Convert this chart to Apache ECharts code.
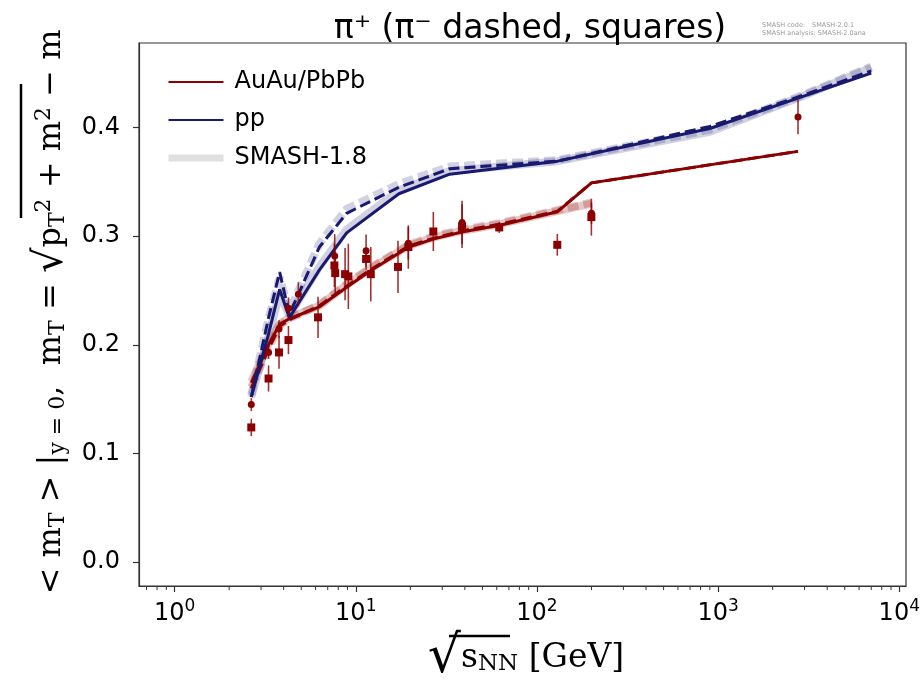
<!DOCTYPE html>
<html>
<head>
<meta charset="utf-8">
<script src="https://cdn.jsdelivr.net/npm/echarts@6/dist/echarts.min.js"></script>
<style>html,body{margin:0;background:#fff}#chart{width:924px;height:680px}</style>
</head>
<body>
<div id="chart"></div>
<script>
// model lines, sqrt(s_NN) grid
const sqrtsAA = [2.65, 3.3, 3.8, 4.3, 6.3, 8.9, 12.3, 19.6, 27, 39, 62.4, 130, 200, 2760];
const aaPiPlus = [0.165, 0.200, 0.219, 0.224, 0.235, 0.253, 0.269, 0.290, 0.2975, 0.304, 0.310, 0.3225, 0.349, 0.378];
const aaPiMinus = [0.160, 0.196, 0.217, 0.223, 0.236, 0.254, 0.270, 0.291, 0.298, 0.305, 0.311, 0.323, 0.349, 0.378];
// SMASH-1.8 reference (stops at 200 GeV)
const sqrtsAAOld = [2.65, 3.3, 3.8, 4.3, 6.3, 8.9, 12.3, 19.6, 27, 39, 62.4, 130, 200];
const aaOldPiPlus = [0.166, 0.201, 0.219, 0.225, 0.236, 0.255, 0.271, 0.291, 0.299, 0.305, 0.311, 0.323, 0.330];
const aaOldPiMinus = [0.161, 0.197, 0.218, 0.224, 0.237, 0.256, 0.272, 0.292, 0.300, 0.306, 0.312, 0.324, 0.331];

const sqrtsPP = [2.65, 3.3, 3.8, 4.3, 6.3, 8.9, 17.3, 33, 130, 900, 2760, 7000];
const ppPiPlus = [0.152, 0.210, 0.251, 0.225, 0.269, 0.303, 0.339, 0.357, 0.369, 0.399, 0.427, 0.450];
const ppPiMinus = [0.152, 0.225, 0.267, 0.228, 0.290, 0.321, 0.345, 0.362, 0.369, 0.401, 0.428, 0.452];
const ppOldPiPlus = [0.152, 0.208, 0.247, 0.227, 0.272, 0.306, 0.342, 0.360, 0.369, 0.396, 0.427, 0.455];
const ppOldPiMinus = [0.154, 0.224, 0.262, 0.231, 0.293, 0.325, 0.348, 0.364, 0.370, 0.398, 0.428, 0.456];

// measurements: [sqrt(s_NN), <mT>-m, error]
const dataPiPlus = [
  [2.65, 0.145, 0.006], [3.3, 0.193, 0.006], [3.77, 0.2146, 0.008], [4.25, 0.2336, 0.010],
  [4.82, 0.2465, 0.011], [7.65, 0.2818, 0.020], [11.4, 0.2865, 0.015], [19.5, 0.2935, 0.015],
  [38.6, 0.3126, 0.020], [200, 0.321, 0.010], [2760, 0.4097, 0.016]
];
const dataPiMinus = [
  [2.65, 0.124, 0.008], [3.3, 0.169, 0.012], [3.77, 0.193, 0.015], [4.25, 0.2044, 0.013],
  [6.19, 0.2253, 0.019], [7.62, 0.273, 0.020], [7.7, 0.266, 0.020], [8.73, 0.265, 0.024],
  [9.1, 0.263, 0.030], [11.4, 0.279, 0.010], [12.1, 0.265, 0.025], [17.1, 0.2717, 0.024],
  [19.5, 0.290, 0.020], [26.8, 0.3043, 0.018], [38.6, 0.309, 0.020], [61.9, 0.308, 0.005],
  [129.5, 0.292, 0.010], [199.7, 0.3175, 0.017]
];

const X_MIN = 0.636, X_MAX = 10890;
const Y_MIN = -0.0219, Y_MAX = 0.4777;
const xTicks = [1, 10, 100, 1000, 10000];
const yTicks = [0, 0.1, 0.2, 0.3, 0.4];
const xMinor = [];
for (let d = 0.1; d <= 1000; d *= 10) {
  for (let k = 2; k <= 9; k++) {
    const v = +(k * d).toPrecision(3);
    if (v > X_MIN && v < X_MAX) xMinor.push(v);
  }
}

const RED = '#8b0000';
const NAVY = '#191970';
const FRAME = '#333';
const pts = (xs, ys) => xs.map((x, i) => [x, ys[i]]);

function line(name, xs, ys, color, width, dashed, z) {
  return {
    name: name,
    type: 'line',
    data: pts(xs, ys),
    symbol: 'none',
    z: z,
    silent: true,
    lineStyle: { color: color, width: width, type: dashed ? [11, 5] : 'solid', cap: 'butt' },
    itemStyle: { color: color }
  };
}

function errorBars(name, data) {
  return {
    name: name,
    type: 'custom',
    z: 4,
    data: data,
    encode: { x: 0, y: 1 },
    renderItem: function (params, api) {
      const x = api.value(0), y = api.value(1), e = api.value(2);
      const lo = api.coord([x, y - e]);
      const hi = api.coord([x, y + e]);
      return {
        type: 'line',
        shape: { x1: lo[0], y1: lo[1], x2: hi[0], y2: hi[1] },
        style: { stroke: 'rgba(139,0,0,0.8)', lineWidth: 1.6 }
      };
    }
  };
}

const hideSymbol = { color: 'rgba(0,0,0,0)', opacity: 0 };
const tickLine = { color: FRAME, width: 1.2 };

const graphics = [
  {
    type: 'text', x: 762, y: 22,
    style: { text: 'SMASH code:', fontFamily: 'DejaVu Sans', fontSize: 6.5, fill: '#999' }
  },
  {
    type: 'text', x: 812, y: 22,
    style: { text: 'SMASH-2.0.1', fontFamily: 'DejaVu Sans', fontSize: 6.5, fill: '#999' }
  },
  {
    type: 'text', x: 762, y: 30,
    style: { text: 'SMASH analysis: SMASH-2.0ana', fontFamily: 'DejaVu Sans', fontSize: 6.5, fill: '#999' }
  },
  {
    type: 'text', x: 52, y: 312, rotation: Math.PI / 2,
    style: {
      text: '{r|< m}{b|T}{r| > |}{b|y = 0}{r|,  m}{b|T}{r| = }{q|√}{r|p}{b|T}{p|2}{r| + m}{p|2}{r| − m}',
      align: 'center', verticalAlign: 'middle',
      rich: {
        r: { fontFamily: 'DejaVu Serif', fontSize: 32, fill: '#000' },
        q: { fontFamily: 'DejaVu Serif', fontSize: 40, fill: '#000' },
        b: { fontFamily: 'DejaVu Serif', fontSize: 22, fill: '#000', padding: [12, 0, 0, 0] },
        p: { fontFamily: 'DejaVu Serif', fontSize: 22, fill: '#000', padding: [0, 0, 16, 0] }
      }
    }
  },
  {
    // radical overline on the y label
    type: 'line', shape: { x1: 21, y1: 218, x2: 21, y2: 84 },
    style: { stroke: '#000', lineWidth: 2.5 }
  },
  {
    type: 'text', x: 526, y: 658,
    style: {
      text: '{q|√}{r|s}{b|NN}{r| [GeV]}',
      align: 'center', verticalAlign: 'middle',
      rich: {
        q: { fontFamily: 'DejaVu Serif', fontSize: 52, fill: '#000' },
        r: { fontFamily: 'DejaVu Serif', fontSize: 33, fill: '#000' },
        b: { fontFamily: 'DejaVu Serif', fontSize: 23, fill: '#000', padding: [12, 0, 0, 0] }
      }
    }
  },
  {
    // radical overline on the x label
    type: 'line', shape: { x1: 449, y1: 636, x2: 510, y2: 636 },
    style: { stroke: '#000', lineWidth: 2.5 }
  }
];

const chart = echarts.init(document.getElementById('chart'));
const option = {
  animation: false,
  title: {
    text: 'π⁺ (π⁻ dashed, squares)',
    left: 525,
    top: 8,
    textAlign: 'center',
    textStyle: { fontFamily: 'DejaVu Sans', fontSize: 33, fontWeight: 'normal', color: '#000' }
  },
  grid: { left: 139, right: 18, top: 43, bottom: 94, show: true, borderColor: FRAME, borderWidth: 1.2 },
  legend: {
    orient: 'vertical',
    left: 160,
    top: 63,
    itemWidth: 55,
    itemHeight: 14,
    itemGap: 10,
    textStyle: { fontFamily: 'DejaVu Sans', fontSize: 24, color: '#000', lineHeight: 28, padding: [0, 0, 0, 6] },
    data: [
      { name: 'AuAu/PbPb', itemStyle: hideSymbol },
      { name: 'pp', itemStyle: hideSymbol },
      { name: 'SMASH-1.8', itemStyle: hideSymbol, lineStyle: { color: '#e0e0e0', width: 7, type: 'solid' } }
    ]
  },
  xAxis: [{
    type: 'log',
    logBase: 10,
    min: X_MIN,
    max: X_MAX,
    position: 'bottom',
    axisLine: { show: true, onZero: false, lineStyle: tickLine },
    splitLine: { show: false },
    axisTick: { show: true, inside: false, customValues: xTicks, length: 6, lineStyle: tickLine },
    axisLabel: {
      customValues: xTicks,
      margin: 12,
      formatter: v => '{n|10}{s|' + Math.round(Math.log10(v)) + '}',
      rich: {
        n: { fontFamily: 'DejaVu Sans', fontSize: 24, color: '#000' },
        s: { fontFamily: 'DejaVu Sans', fontSize: 17, color: '#000', padding: [0, 0, 14, 0] }
      }
    }
  }],
  yAxis: {
    type: 'value',
    min: Y_MIN,
    max: Y_MAX,
    position: 'left',
    axisLine: { show: true, onZero: false, lineStyle: tickLine },
    splitLine: { show: false },
    axisTick: { show: true, inside: false, customValues: yTicks, length: 6, lineStyle: tickLine },
    axisLabel: {
      customValues: yTicks,
      margin: 19,
      formatter: v => v.toFixed(1),
      fontFamily: 'DejaVu Sans',
      fontSize: 24,
      color: '#000'
    }
  },
  graphic: graphics,
  series: [
    line('SMASH-1.8', sqrtsPP, ppOldPiPlus, 'rgba(25,25,112,0.2)', 8, false, 1),
    line('SMASH-1.8 π⁻ pp', sqrtsPP, ppOldPiMinus, 'rgba(25,25,112,0.2)', 8, true, 1),
    line('SMASH-1.8 AuAu', sqrtsAAOld, aaOldPiPlus, 'rgba(139,0,0,0.22)', 8, false, 1),
    line('SMASH-1.8 π⁻ AuAu', sqrtsAAOld, aaOldPiMinus, 'rgba(139,0,0,0.22)', 8, true, 1),
    line('AuAu/PbPb', sqrtsAA, aaPiPlus, RED, 3, false, 3),
    line('AuAu/PbPb π⁻', sqrtsAA, aaPiMinus, RED, 3, true, 3),
    line('pp', sqrtsPP, ppPiPlus, NAVY, 3, false, 3),
    line('pp π⁻', sqrtsPP, ppPiMinus, NAVY, 3, true, 3),
    errorBars('err π⁺', dataPiPlus),
    errorBars('err π⁻', dataPiMinus),
    {
      name: 'data π⁺', type: 'scatter', z: 5, symbol: 'circle', symbolSize: 7,
      data: dataPiPlus.map(d => [d[0], d[1]]), itemStyle: { color: RED, opacity: 1 }
    },
    {
      name: 'data π⁻', type: 'scatter', z: 5, symbol: 'rect', symbolSize: 8,
      data: dataPiMinus.map(d => [d[0], d[1]]), itemStyle: { color: RED, opacity: 1 }
    }
  ]
};
chart.setOption(option);

// minor ticks on the log axis (matplotlib style), placed through the axis scale
const finder = { gridIndex: 0 };
const minorMarks = [];
xMinor.forEach(v => {
  const p = chart.convertToPixel(finder, [v, Y_MIN]);
  if (p && isFinite(p[0]) && isFinite(p[1])) {
    minorMarks.push({ type: 'rect', silent: true, z: 100,
      shape: { x: p[0] - 0.5, y: p[1], width: 1, height: 4 }, style: { fill: FRAME } });
  }
});
chart.setOption({ graphic: graphics.concat(minorMarks) });
</script>
</body>
</html>
